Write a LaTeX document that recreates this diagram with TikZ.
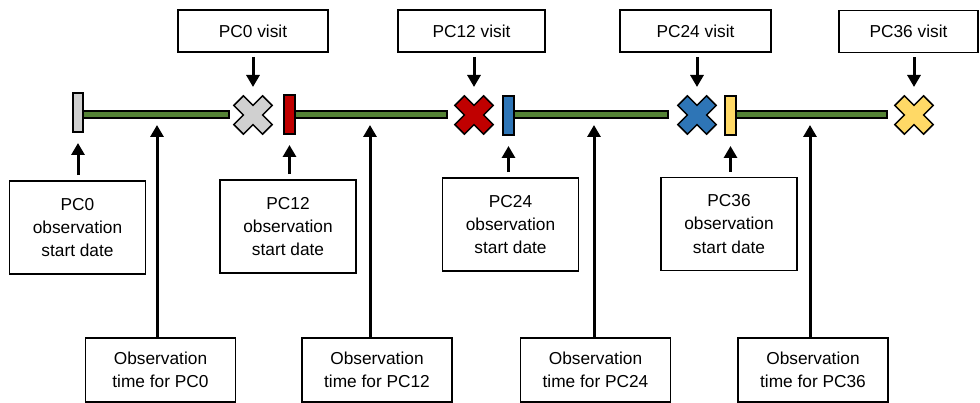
\documentclass[tikz,border=0pt]{standalone}
\usepackage{fontspec}
\setmainfont{Liberation Sans}
\usetikzlibrary{arrows.meta}

\definecolor{pcgray}{HTML}{D0D0D0}
\definecolor{pcred}{HTML}{C00000}
\definecolor{pcblue}{HTML}{2E75B6}
\definecolor{pcyellow}{HTML}{FFD966}
\definecolor{pcgreen}{HTML}{548235}

\tikzset{
  lbl/.style={draw=black, line width=1.8pt, fill=white, inner sep=0pt,
    align=center, font=\fontsize{17.3}{23.3}\selectfont},
  visitbox/.style={lbl, minimum height=42pt},
  startbox/.style={lbl, minimum width=136pt, minimum height=93pt},
  timebox/.style={lbl, minimum width=150pt, minimum height=64pt},
  pointer/.style={line width=3pt, -{Triangle[width=13pt,length=12pt]}},
  bar/.style={draw=black, line width=1.5pt},
  span/.style={draw=black, line width=1.3pt, fill=pcgreen},
  marker/.style={draw=black, line width=1.5pt, line join=miter},
}

% an X-shaped marker centred at #1, filled with colour #2
\newcommand{\visitmark}[2]{%
  \fill[#2, marker, shift={#1}, rotate=45]
    (-6.8,-20.3) -- (6.8,-20.3) -- (6.8,-6.8) -- (20.3,-6.8) -- (20.3,6.8)
    -- (6.8,6.8) -- (6.8,20.3) -- (-6.8,20.3) -- (-6.8,6.8) -- (-20.3,6.8)
    -- (-20.3,-6.8) -- (-6.8,-6.8) -- cycle;}

\begin{document}
\begin{tikzpicture}[x=1pt, y=-1pt]
\useasboundingbox (0,0) rectangle (980,403);

% observation spans
\filldraw[span] (83,111) rectangle (229,118);
\filldraw[span] (295,111) rectangle (447,118);
\filldraw[span] (514,111) rectangle (668,118);
\filldraw[span] (736,111) rectangle (887,118);

% start-date bars
\filldraw[bar, fill=pcgray]   (73,93) rectangle (83,132);
\filldraw[bar, fill=pcred]    (284,95) rectangle (295,134);
\filldraw[bar, fill=pcblue]   (503,96) rectangle (514,135);
\filldraw[bar, fill=pcyellow] (725,96) rectangle (736,135);
\coordinate (b0) at (78,132);
\coordinate (b12) at (289.5,134);
\coordinate (b24) at (508.5,135);
\coordinate (b36) at (730.5,135);

% visit markers
\visitmark{(253,115)}{pcgray}
\visitmark{(474,115)}{pcred}
\visitmark{(697,115)}{pcblue}
\visitmark{(914,115)}{pcyellow}
\coordinate (x0) at (253,95);
\coordinate (x12) at (474,95);
\coordinate (x24) at (697,95);
\coordinate (x36) at (914,95);

% points on the spans
\coordinate (s0) at (157,118);
\coordinate (s12) at (370,118);
\coordinate (s24) at (594,118);
\coordinate (s36) at (810,118);

% visit labels
\node[visitbox, minimum width=150pt] (v0)  at (253,31)   {PC0 visit};
\node[visitbox, minimum width=147pt] (v12) at (471.5,31) {PC12 visit};
\node[visitbox, minimum width=151pt] (v24) at (695.5,31) {PC24 visit};
\node[visitbox, minimum width=139pt] (v36) at (908.5,31.5) {PC36 visit};

% start-date labels
\node[startbox] (st0)  at (77.5,227.5)  {PC0\\observation\\start date};
\node[startbox] (st12) at (288,226.5)   {PC12\\observation\\start date};
\node[startbox] (st24) at (510.5,224.5) {PC24\\observation\\start date};
\node[startbox] (st36) at (729,224)     {PC36\\observation\\start date};

% observation-time labels
\node[timebox] (t0)  at (160.5,370) {Observation\\time for PC0};
\node[timebox] (t12) at (377,370)   {Observation\\time for PC12};
\node[timebox] (t24) at (595.5,370) {Observation\\time for PC24};
\node[timebox] (t36) at (813,370)   {Observation\\time for PC36};

% pointers
\foreach \n in {0,12,24,36}
  \draw[pointer, shorten <=4pt, shorten >=8pt] (v\n.south -| x\n) -- (x\n);
\foreach \n in {0,12,24,36}
  \draw[pointer, shorten <=5pt, shorten >=11pt] (st\n.north -| b\n) -- (b\n);
\foreach \n in {0,12,24,36}
  \draw[pointer, shorten >=7pt] (t\n.north -| s\n) -- (s\n);
\end{tikzpicture}
\end{document}
